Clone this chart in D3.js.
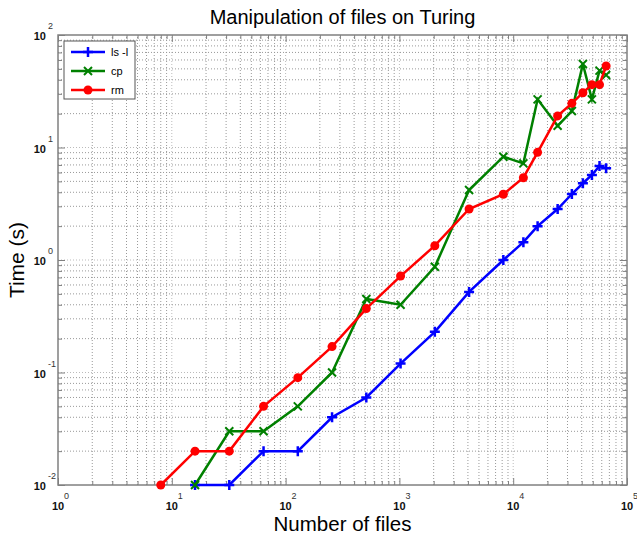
<!DOCTYPE html>
<html>
<head>
<meta charset="utf-8">
<script src="https://cdn.jsdelivr.net/npm/d3@7"></script>
<style>
body{margin:0;background:#fff;}
text{font-family:"Liberation Sans",Arial,sans-serif;}
</style>
</head>
<body>
<div id="chart"></div>
<script>
// number of files (x) and timings in seconds (y)
const files = [8,16,32,64,128,256,512,1024,2048,4096,8192,12288,16384,24576,32768,40960,49152,57344,65536];
const lsFiles = files.slice(1);
const lsTimes = [0.01,0.01,0.02,0.02,0.04,0.06,0.12,0.23,0.52,1.0,1.44,2.0,2.84,3.86,4.81,5.70,6.85,6.53];
const cpFiles = files.slice(1);
const cpTimes = [0.01,0.03,0.03,0.05,0.10,0.45,0.40,0.87,4.19,8.28,7.23,26.8,15.6,21.1,55.2,26.8,48.2,44.1];
const rmFiles = files;
const rmTimes = [0.01,0.02,0.02,0.05,0.09,0.17,0.37,0.72,1.34,2.84,3.84,5.39,9.06,19.1,24.7,30.7,36.2,36.2,53.0];

const seriesNames = ["ls -l","cp","rm"];
const xTicks = [1,10,100,1000,10000,100000];
const yTicks = [0.01,0.1,1,10,100];

function makeChart(){
    const width = 637, height = 535;
    const margin = {left:58, right:10, top:35, bottom:50};

    let svg = d3.select("#chart").append("svg")
                .attr("width",width)
                .attr("height",height);

    let xScale = d3.scaleLog().domain([1,100000]).range([margin.left, width - margin.right]);
    let yScale = d3.scaleLog().domain([0.01,100]).range([height - margin.bottom, margin.top]);

    const x0 = margin.left, x1 = width - margin.right;
    const y0 = height - margin.bottom, y1 = margin.top;

    //#region grid
    let xGrid = [], yGrid = [];
    for(let e=0;e<5;e++){ for(let m=1;m<10;m++){ xGrid.push(m*Math.pow(10,e)); } }
    xGrid.push(100000);
    for(let e=-2;e<2;e++){ for(let m=1;m<10;m++){ yGrid.push(m*Math.pow(10,e)); } }
    yGrid.push(100);

    svg.append("g").selectAll("line")
        .data(xGrid.slice(1,-1))
        .join("line")
        .attr("x1",d=>xScale(d)).attr("x2",d=>xScale(d))
        .attr("y1",y0).attr("y2",y1)
        .attr("stroke",d => xTicks.includes(d) ? "#bbb" : "#999")
        .attr("stroke-width",1)
        .attr("stroke-dasharray","1,2");

    svg.append("g").selectAll("line")
        .data(yGrid.slice(1,-1))
        .join("line")
        .attr("y1",d=>yScale(d)).attr("y2",d=>yScale(d))
        .attr("x1",x0).attr("x2",x1)
        .attr("stroke",d => yTicks.includes(d) ? "#bbb" : "#999")
        .attr("stroke-width",1)
        .attr("stroke-dasharray","1,2");
    //#endregion

    //#region axes (ticks inward on all sides)
    const axisColor = "#808080";
    function styleAxis(g){
        g.select(".domain").remove();
        g.selectAll("line").attr("stroke",axisColor);
        g.selectAll("text").remove();
    }
    const minorX = xGrid.filter(d => !xTicks.includes(d));
    const minorY = yGrid.filter(d => !yTicks.includes(d));

    svg.append("g").attr("transform",`translate(0,${y0})`)
        .call(d3.axisBottom(xScale).tickValues(minorX).tickSize(-4)).call(styleAxis);
    svg.append("g").attr("transform",`translate(0,${y0})`)
        .call(d3.axisBottom(xScale).tickValues(xTicks).tickSize(-7)).call(styleAxis);
    svg.append("g").attr("transform",`translate(0,${y1})`)
        .call(d3.axisTop(xScale).tickValues(minorX).tickSize(-4)).call(styleAxis);
    svg.append("g").attr("transform",`translate(0,${y1})`)
        .call(d3.axisTop(xScale).tickValues(xTicks).tickSize(-7)).call(styleAxis);
    svg.append("g").attr("transform",`translate(${x0},0)`)
        .call(d3.axisLeft(yScale).tickValues(minorY).tickSize(-4)).call(styleAxis);
    svg.append("g").attr("transform",`translate(${x0},0)`)
        .call(d3.axisLeft(yScale).tickValues(yTicks).tickSize(-7)).call(styleAxis);
    svg.append("g").attr("transform",`translate(${x1},0)`)
        .call(d3.axisRight(yScale).tickValues(minorY).tickSize(-4)).call(styleAxis);
    svg.append("g").attr("transform",`translate(${x1},0)`)
        .call(d3.axisRight(yScale).tickValues(yTicks).tickSize(-7)).call(styleAxis);

    svg.append("rect")
        .attr("x",x0).attr("y",y1)
        .attr("width",x1-x0).attr("height",y0-y1)
        .attr("fill","none").attr("stroke",axisColor).attr("stroke-width",1.5);

    // tick labels: 10 with a superscript exponent
    let xl = svg.append("g").selectAll("g").data(xTicks).join("g")
        .attr("transform",d=>`translate(${xScale(d)},${y0})`);
    xl.append("text").text("10")
        .attr("x",0).attr("y",25)
        .attr("text-anchor","middle").attr("font-size",11).attr("font-weight","bold").attr("fill","#111");
    xl.append("text").text(d=>Math.round(Math.log10(d)))
        .attr("x",6).attr("y",14)
        .attr("font-size",9).attr("fill","#333");

    let yl = svg.append("g").selectAll("g").data(yTicks).join("g")
        .attr("transform",d=>`translate(${x0},${yScale(d)})`);
    yl.append("text").text("10")
        .attr("x",-12).attr("y",5)
        .attr("text-anchor","end").attr("font-size",11).attr("font-weight","bold").attr("fill","#111");
    yl.append("text").text(d=>Math.round(Math.log10(d)))
        .attr("x",-10).attr("y",-6)
        .attr("text-anchor","start").attr("font-size",9).attr("fill","#333");
    //#endregion

    //#region series
    const colors = ["#0000ff","#008000","#ff0000"];
    const allData = [
        lsFiles.map((f,i)=>({x:f,y:lsTimes[i]})),
        cpFiles.map((f,i)=>({x:f,y:cpTimes[i]})),
        rmFiles.map((f,i)=>({x:f,y:rmTimes[i]}))
    ];
    let line = d3.line().x(d=>xScale(d.x)).y(d=>yScale(d.y));

    function drawMarker(g,kind,color){
        if(kind==0){
            g.append("path").attr("d","M-5,0H5M0,-5V5")
                .attr("stroke",color).attr("stroke-width",2.5).attr("fill","none");
        }else if(kind==1){
            g.append("path").attr("d","M-4,-4L4,4M-4,4L4,-4")
                .attr("stroke",color).attr("stroke-width",2).attr("fill","none");
        }else{
            g.append("circle").attr("r",4.5).attr("fill",color);
        }
    }

    allData.forEach((data,k)=>{
        svg.append("path")
            .datum(data)
            .attr("d",line)
            .attr("fill","none")
            .attr("stroke",colors[k])
            .attr("stroke-width",2.5);
        svg.append("g").selectAll("g")
            .data(data).join("g")
            .attr("transform",d=>`translate(${xScale(d.x)},${yScale(d.y)})`)
            .each(function(){ drawMarker(d3.select(this),k,colors[k]); });
    });
    //#endregion

    //#region legend
    let leg = svg.append("g");
    leg.append("rect")
        .attr("x",64).attr("y",41).attr("width",71).attr("height",58)
        .attr("fill","#fff").attr("stroke","#555").attr("stroke-width",1);
    seriesNames.forEach((name,k)=>{
        let ly = 52 + k*19;
        leg.append("line").attr("x1",71).attr("x2",105).attr("y1",ly).attr("y2",ly)
            .attr("stroke",colors[k]).attr("stroke-width",2.5);
        let mg = leg.append("g").attr("transform",`translate(88,${ly})`);
        drawMarker(mg,k,colors[k]);
        leg.append("text").text(name)
            .attr("x",111).attr("y",ly+4)
            .attr("font-size",11).attr("fill","#000");
    });
    //#endregion

    //#region titles
    svg.append("text").text("Manipulation of files on Turing")
        .attr("x",(x0+x1)/2).attr("y",24)
        .attr("text-anchor","middle").attr("font-size",20).attr("fill","#000");
    svg.append("text").text("Number of files")
        .attr("x",(x0+x1)/2).attr("y",531)
        .attr("text-anchor","middle").attr("font-size",20.5).attr("fill","#000");
    svg.append("text").text("Time (s)")
        .attr("transform",`translate(24,${(y0+y1)/2}) rotate(-90)`)
        .attr("text-anchor","middle").attr("font-size",21).attr("fill","#000");
    //#endregion
}

makeChart();
</script>
</body>
</html>
